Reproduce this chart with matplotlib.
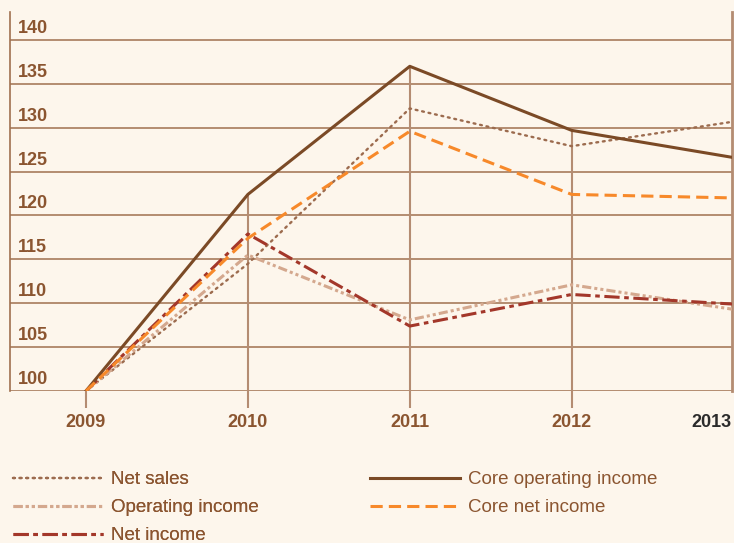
import numpy as np
import matplotlib.pyplot as plt
from matplotlib.transforms import offset_copy

years = [2009, 2010, 2011, 2012, 2013]
net_sales = [100, 114.5, 132.2, 127.9, 130.7]
operating_income = [100, 115.5, 108.1, 112.1, 109.3]
net_income = [100, 117.9, 107.4, 111.0, 109.9]
core_operating_income = [100, 122.4, 137.0, 129.7, 126.6]
core_net_income = [100, 117.4, 129.6, 122.4, 122.0]
y_ticks = [100, 105, 110, 115, 120, 125, 130, 135, 140]

bg = '#fdf6ec'
brown = '#8b5530'
grid_c = '#a0704f'

fig = plt.figure(figsize=(7.34, 5.43), dpi=100, facecolor=bg)
ax = fig.add_axes([10 / 734, 1 - 391 / 543, 722 / 734, 379 / 543], facecolor=bg)
ax.set_xlim(2008.531, 2012.99)
ax.set_ylim(100, 143.19)

for v in y_ticks:
    ax.axhline(v, color=grid_c, lw=1.1, zorder=1)
    t = offset_copy(ax.get_yaxis_transform(), fig=fig, x=0, y=3, units='dots')
    ax.text(0.011, v, str(v), transform=t, ha='left', va='bottom',
            fontsize=13, fontweight='bold', color=brown, family='Liberation Sans')

# drop lines from the highest value of each year to below the axis
series = [net_sales, operating_income, net_income, core_operating_income, core_net_income]
tops = np.max(np.array(series), axis=0)
for i, yr in enumerate(years[:-1]):
    ax.vlines(yr, 98.06, tops[i], color='#b48c72', lw=1.5, clip_on=False, zorder=1)

lines = []
lines += ax.plot(years, net_sales, color='#9c6b4e', lw=1.7, ls=(0, (0.8, 2.0)),
                 dash_capstyle='round', label='Net sales', zorder=3)
lines += ax.plot(years, operating_income, color='#d4a88e', lw=2.2,
                 ls=(0, (3, 1, 1, 1, 1, 1)), label='Operating income', zorder=3)
lines += ax.plot(years, net_income, color='#a3372a', lw=2.2,
                 ls=(0, (5, 1.5, 1.5, 1.5)), label='Net income', zorder=3)
l2 = []
l2 += ax.plot(years, core_operating_income, color='#7b4a26', lw=2.2,
              label='Core operating income', zorder=4)
l2 += ax.plot(years, core_net_income, color='#f7892a', lw=2.2, ls=(0, (4, 2)),
              label='Core net income', zorder=4)

for s in ['top', 'bottom']:
    ax.spines[s].set_visible(False)
ax.spines['left'].set_color('#a0704f')
ax.spines['left'].set_linewidth(1.2)
ax.spines['right'].set_color('#b48c72')
ax.spines['right'].set_linewidth(2)
ax.set_xticks([])
ax.set_yticks([])

for yr in years:
    if yr == 2013:
        ax.text(2012.99, 96.4, str(yr), ha='right', va='center', fontsize=13,
                fontweight='bold', color='#2b2b2b', family='Liberation Sans')
    else:
        ax.text(yr, 96.4, str(yr), ha='center', va='center', fontsize=13,
                fontweight='bold', color=brown, family='Liberation Sans')

leg_font = {'family': 'Liberation Sans', 'size': 13.5}
leg_kw = dict(loc='upper left', frameon=False, prop=leg_font, handlelength=4.8,
              labelspacing=0.58, handletextpad=0.43, borderpad=0, borderaxespad=0,
              labelcolor=brown)
leg1 = fig.legend(handles=lines, bbox_to_anchor=(13 / 734, 1 - 471 / 543), **leg_kw)
leg2 = fig.legend(handles=l2, bbox_to_anchor=(370 / 734, 1 - 471 / 543), **leg_kw)
fig.add_artist(leg1)

fig.savefig('out.png', dpi=100, facecolor=bg)
